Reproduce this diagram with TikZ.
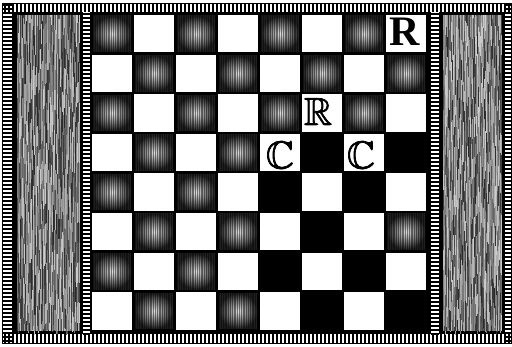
\documentclass[tikz,border=0pt]{standalone}
\usepackage{amssymb}
\usepackage{fontspec}
\newfontfamily\rfont{Liberation Serif}
\newcommand\heavyglyph[1]{\special{pdf:literal direct 2 Tr 0.7 w}#1\special{pdf:literal direct 0 Tr 0.4 w}}
\tikzset{
  tick/.style={fill=black},
  panelfill/.style={fill=black!18},
  whitesq/.style={fill=white},
  bigR/.style={font=\rfont\bfseries\fontsize{42}{42}\selectfont, inner sep=0pt},
  openface/.style={font=\fontsize{39}{39}\usefont{U}{msb}{m}{n}, inner sep=0pt}
}
\begin{document}
\begin{tikzpicture}[x=1pt,y=-1pt]
\useasboundingbox (0,0) rectangle (512,347);
\fill[white] (0,0) rectangle (512,347);
% outer ruler band
\draw[line width=0.9pt] (2.8,3.3) rectangle (511.2,343);
\foreach \i in {0,...,126} {
  \fill[tick] (4+4*\i,3.3) rectangle ++(2.3,8.7);
  \fill[tick] (4+4*\i,334) rectangle ++(2.3,9);
}
\foreach \j in {0,...,84} {
  \fill[tick] (2.8,4+4*\j) rectangle ++(9.2,2.3);
  \fill[tick] (505,4+4*\j) rectangle ++(6.2,2.3);
}
% inner ruler strips
\foreach \j in {0,...,80} {
  \fill[tick] (83,13+4*\j) rectangle ++(7,2.3);
  \fill[tick] (431,13+4*\j) rectangle ++(8,2.3);
}
% side panels
\fill[black] (12,12) rectangle (83,334);
\fill[panelfill] (16.5,15) rectangle (80,331);
\fill[black] (439,12) rectangle (505,334);
\fill[panelfill] (443,15) rectangle (502,331);
\foreach \xa/\xb in {17/79.5, 443.5/501.5} {
  \foreach \x in {\xa,...,\xb} {
    \pgfmathsetmacro\off{-20*rnd}
    \foreach \k in {0,...,16} {
      \pgfmathtruncatemacro\g{20+65*rnd}
      \pgfmathsetmacro\ys{max(15,15+\off+20*\k)}
      \pgfmathsetmacro\ye{min(331,15+\off+20*(\k+1))}
      \draw[line width=0.5pt, black!\g] (\x,\ys) -- (\x,\ye);
    }
  }
}
% board
\fill[black] (90,12) rectangle (431,334);
\foreach \r in {1,...,8} {
  \foreach \c in {1,...,8} {
    \pgfmathsetmacro\xa{92+42*(\c-1)}
    \pgfmathsetmacro\ya{15+39.6*(\r-1)}
    \pgfmathtruncatemacro\pty{mod(\r+\c,2)}
    \pgfmathtruncatemacro\solid{(\r>3)&&(\c>4)&&!((\r==6)&&(\c==8))}
    \ifnum\pty=1
      \fill[whitesq] (\xa,\ya) rectangle ++(40,37.5);
    \else
      \ifnum\solid=0
        \shade[inner color=black!12, outer color=black!88] (\xa+1,\ya+1) rectangle ++(38,35.5);
        \foreach \k in {0,...,20} {
          \draw[black, line width=0.5pt, opacity=0.45] (\xa+1.5+1.8*\k,\ya+0.5) -- ++(0,36.5);
        }
      \fi
    \fi
  }
}
% letters
\node[bigR] (rookA) at (405,32) {R};
\node[openface] (rookB) at (318,111.5) {\heavyglyph{R}};
\node[openface] (castleA) at (280,155) {\heavyglyph{C}};
\node[openface] (castleB) at (361,155) {\heavyglyph{C}};
\end{tikzpicture}
\end{document}
